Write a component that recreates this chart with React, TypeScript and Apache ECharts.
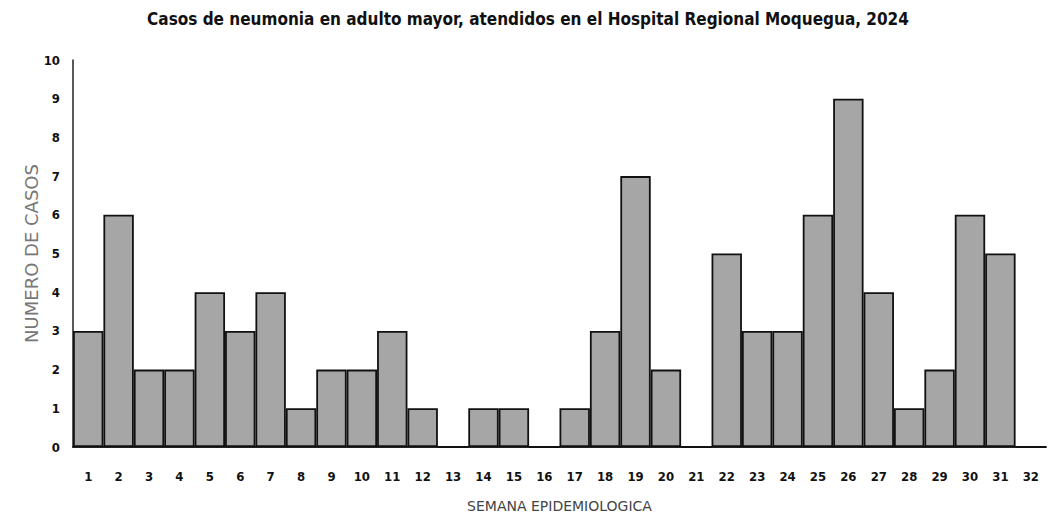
import React, { useEffect, useRef } from "react";
import * as echarts from "echarts";

const weeks = Array.from({ length: 32 }, (_, i) => String(i + 1));
const cases = [3, 6, 2, 2, 4, 3, 4, 1, 2, 2, 3, 1, 0, 1, 1, 0, 1, 3, 7, 2, 0, 5, 3, 3, 6, 9, 4, 1, 2, 6, 5, 0];
const titleText = "Casos de neumonia en adulto mayor, atendidos en el Hospital Regional Moquegua, 2024";
const xName = "SEMANA EPIDEMIOLOGICA";
const yName = "NUMERO DE CASOS";

export default function App() {
  const ref = useRef<HTMLDivElement>(null);
  useEffect(() => {
    const chart = echarts.init(ref.current!, null, { renderer: "svg" });
    const cond = "'Liberation Sans Narrow', 'DejaVu Sans Condensed', 'DejaVu Sans', sans-serif";
    chart.setOption({
      animation: false,
      backgroundColor: "#ffffff",
      title: {
        text: titleText,
        left: "center",
        top: 5,
        textStyle: { fontFamily: cond, fontWeight: "bold", fontSize: 17, color: "#111" },
      },
      grid: { left: 73, right: 10, top: 60, bottom: 70, containLabel: false },
      xAxis: {
        type: "category",
        data: weeks,
        name: xName,
        nameLocation: "middle",
        nameGap: 52,
        nameMoveOverlap: false,
        nameTextStyle: { fontFamily: "'DejaVu Sans', sans-serif", fontSize: 14, color: "#444" },
        axisLine: { lineStyle: { color: "#222", width: 2 } },
        axisTick: { show: false },
        axisLabel: { interval: 0, margin: 23, fontFamily: cond, fontWeight: "bold", fontSize: 13, color: "#111" },
      },
      yAxis: {
        type: "value",
        min: 0,
        max: 10,
        interval: 1,
        name: yName,
        nameLocation: "middle",
        nameGap: 33,
        nameMoveOverlap: false,
        nameTextStyle: { fontFamily: "'DejaVu Sans', sans-serif", fontSize: 18, color: "#777" },
        axisLine: { show: true, lineStyle: { color: "#222", width: 1.5 } },
        axisTick: { show: false },
        splitLine: { show: false },
        axisLabel: { margin: 13, fontFamily: cond, fontWeight: "bold", fontSize: 13, color: "#111" },
      },
      series: [
        {
          type: "bar",
          data: cases,
          barCategoryGap: "0%",
          itemStyle: { color: "#a6a6a6", borderColor: "#111", borderWidth: 1.8 },
        },
      ],
    });
    return () => chart.dispose();
  }, []);
  return <div ref={ref} style={{ position: "absolute", left: 0, top: 0, width: 1056, height: 518 }} />;
}
